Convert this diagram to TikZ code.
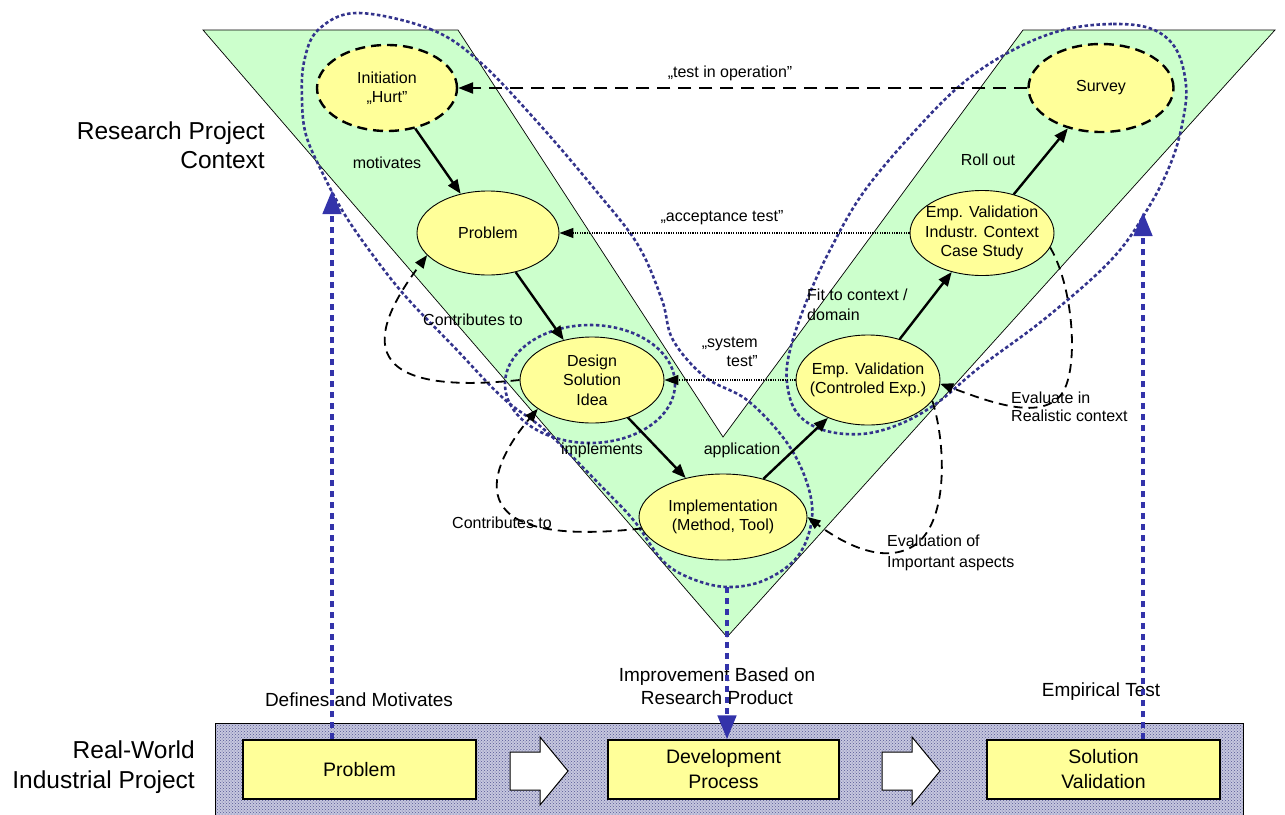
\documentclass[tikz,border=0pt]{standalone}
\usepackage{fontspec}
\setmainfont{Liberation Sans}
\usetikzlibrary{shapes.geometric,arrows.meta,patterns}

\definecolor{vgreen}{RGB}{204,255,204}
\definecolor{nodeyellow}{RGB}{255,255,153}
\definecolor{loopblue}{RGB}{51,51,140}
\definecolor{linkblue}{RGB}{51,51,170}
\definecolor{bandgrey}{RGB}{198,199,222}
\definecolor{bandink}{RGB}{85,87,150}

\begin{document}
\begin{tikzpicture}[x=1pt, y=-1pt,
  every node/.style={font=\fontsize{16}{19.5}\selectfont, inner sep=0pt, align=center},
  phase/.style={ellipse, draw=black, line width=0.9pt, fill=nodeyellow, inner xsep=-10pt, inner ysep=0pt},
  phasedash/.style={phase, line width=2.4pt, dash pattern=on 10pt off 6pt},
  realbox/.style={rectangle, draw=black, line width=1.1pt, fill=nodeyellow, minimum width=233pt, minimum height=59pt, font=\fontsize{19.5}{25}\selectfont},
  sidetitle/.style={anchor=east, align=right, font=\fontsize{24.5}{29.5}\selectfont},
  bottomnote/.style={font=\fontsize{19}{23}\selectfont},
  mainflow/.style={draw=black, line width=2.4pt, -{Triangle[length=14pt,width=11pt]}},
  feedback/.style={draw=black, line width=1.2pt, dash pattern=on 1.2pt off 1.2pt, -{Triangle[length=14pt,width=10pt]}},
  operation/.style={draw=black, line width=2.4pt, dash pattern=on 13pt off 8pt, -{Triangle[length=15pt,width=11pt]}},
  contrib/.style={draw=black, line width=1.8pt, dash pattern=on 9pt off 6pt, -{Triangle[length=13pt,width=10pt]}},
  scopeline/.style={draw=loopblue, line width=2.6pt, dash pattern=on 3.5pt off 2.5pt},
  linkarrow/.style={draw=linkblue, line width=4.5pt, dash pattern=on 6pt off 5pt, -{Triangle[length=24pt,width=18pt]}},
  blockarrow/.style={draw=black, line width=1pt, fill=white},
]
\useasboundingbox (0,0) rectangle (1285,814);

% the V of the research project
\draw[fill=vgreen, line width=0.7pt] (203,30) -- (458,30) -- (723,437) -- (1023,30) -- (1275,30) -- (727,637) -- cycle;

% research scopes (dotted outlines)
\draw[scopeline] plot[smooth cycle, tension=0.6] coordinates {
  (357,13) (430,29) (480,62) (540,125) (597,192) (638,245) (662,300) (673,340)
  (705,377) (747,400) (785,440) (806,480) (812,518) (798,556) (765,580) (727,587)
  (690,578) (662,560) (635,522) (605,490) (547,432) (503,398) (455,348) (407,298)
  (375,258) (345,215) (322,172) (306,135) (302,100) (304,62) (318,30)};
\draw[scopeline] plot[smooth cycle, tension=0.6] coordinates {
  (1063,30) (1113,24) (1152,29) (1176,49) (1186,85) (1183,120) (1172,160) (1150,205)
  (1113,258) (1047,317) (980,367) (937,403) (900,424) (862,434) (823,430) (797,413)
  (787,383) (790,350) (807,300) (830,250) (863,193) (913,133) (963,83) (1013,50)};
\draw[scopeline] (590,384) ellipse [x radius=85, y radius=59];

% phases of the research project
\node[phasedash, minimum width=140pt, minimum height=86pt] (init) at (387,88) {Initiation\\„Hurt\symbol{"22}};
\node[phase, minimum width=142pt, minimum height=84pt] (prob) at (488,233) {Problem};
\node[phase, minimum width=144pt, minimum height=86pt] (design) at (592,380) {Design\\Solution\\Idea};
\node[phase, minimum width=168pt, minimum height=86pt] (impl) at (723,517) {Implementation\\(Method, Tool)};
\node[phase, minimum width=144pt, minimum height=90pt] (empc) at (868,380) {Emp. Validation\\(Controled Exp.)};
\node[phase, minimum width=144pt, minimum height=85pt] (indus) at (982,233) {Emp. Validation\\Industr. Context\\Case Study};
\node[phasedash, minimum width=145pt, minimum height=88pt] (survey) at (1101,88) {Survey};

% main flow
\draw[mainflow] (init) -- (prob);
\draw[mainflow] (prob) -- (design);
\draw[mainflow] (design) -- (impl);
\draw[mainflow] (impl) -- (empc);
\draw[mainflow] (empc) -- (indus);
\draw[mainflow] (indus) -- (survey);

% tests back to the left arm
\draw[operation] (survey) -- (init);
\draw[feedback] (indus) -- (prob);
\draw[feedback] (empc) -- (design);

% contribution and evaluation loops
\draw[contrib] (design.180) .. controls (330,400) and (385,312) .. (prob.200);
\draw[contrib] (impl.188) .. controls (450,550) and (490,465) .. (design.208);
\draw[contrib] (empc.-18) .. controls (945,440) and (950,520) .. (915,545)
                          .. controls (885,565) and (845,545) .. (impl.0);
\draw[contrib] (indus.-12) .. controls (1075,290) and (1080,380) .. (1058,398)
                           .. controls (1035,420) and (985,400) .. (empc.-3);

% labels of the V
\node (lmot) at (387,163) {motivates};
\node (lcon1) at (473,320) {Contributes to};
\node (limp) at (602,450) {implements};
\node (lapp) at (742,450) {application};
\node (lcon2) at (502,523) {Contributes to};
\node[anchor=west, align=left] (lfit) at (807,305) {Fit to context /\\domain};
\node (lroll) at (988,160) {Roll out};
\node[anchor=west, align=left, font=\fontsize{16}{18}\selectfont] (lreal) at (1011,407) {Evaluate in\\Realistic context};
\node[anchor=west, align=left, font=\fontsize{16}{21}\selectfont] (limpo) at (887,553) {Evaluation of\\Important aspects};
\node (lacc) at (722,218) {„acceptance test\symbol{"22}};
\node (lop) at (730,73) {„test in operation\symbol{"22}};
\node[anchor=east, align=right] (lsys) at (758,352) {„system\\test\symbol{"22}};

\node[sidetitle] (rpc) at (265,145) {Research Project\\Context};
\node[sidetitle] (rwip) at (195,767) {Real-World\\Industrial Project};

% the real-world industrial project
\fill[bandgrey] (215,723) rectangle (1243,816);
\fill[pattern=crosshatch dots, pattern color=bandink] (215,723) rectangle (1243,816);
\draw[line width=1pt] (215,816) -- (215,723) -- (1243,723) -- (1243,816);

\node[realbox] (bprob) at (359.5,769.5) {Problem};
\node[realbox, minimum width=231pt] (bdev) at (723.5,769.5) {Development\\Process};
\node[realbox] (bsol) at (1103.5,769.5) {Solution\\Validation};

\draw[blockarrow] (510,752) -- (540,752) -- (540,737) -- (568,771) -- (540,805) -- (540,790) -- (510,790) -- cycle;
\draw[blockarrow] (882,752) -- (912,752) -- (912,737) -- (940,771) -- (912,805) -- (912,790) -- (882,790) -- cycle;

\node[bottomnote] (ldef) at (359,700) {Defines and Motivates};
\node[bottomnote] (limpr) at (717,686) {Improvement Based on\\Research Product};
\node[bottomnote] (lemp) at (1101,692) {Empirical Test};

% links between the two projects
\coordinate (defTop) at (332,190);
\coordinate (evalTop) at (1143,212);
\coordinate (scopeFoot) at (727,587);
\draw[linkarrow] (bprob.north -| defTop) -- (defTop);
\draw[linkarrow] (scopeFoot) -- (scopeFoot |- bdev.north);
\draw[linkarrow] (bsol.north -| evalTop) -- (evalTop);
\end{tikzpicture}
\end{document}
